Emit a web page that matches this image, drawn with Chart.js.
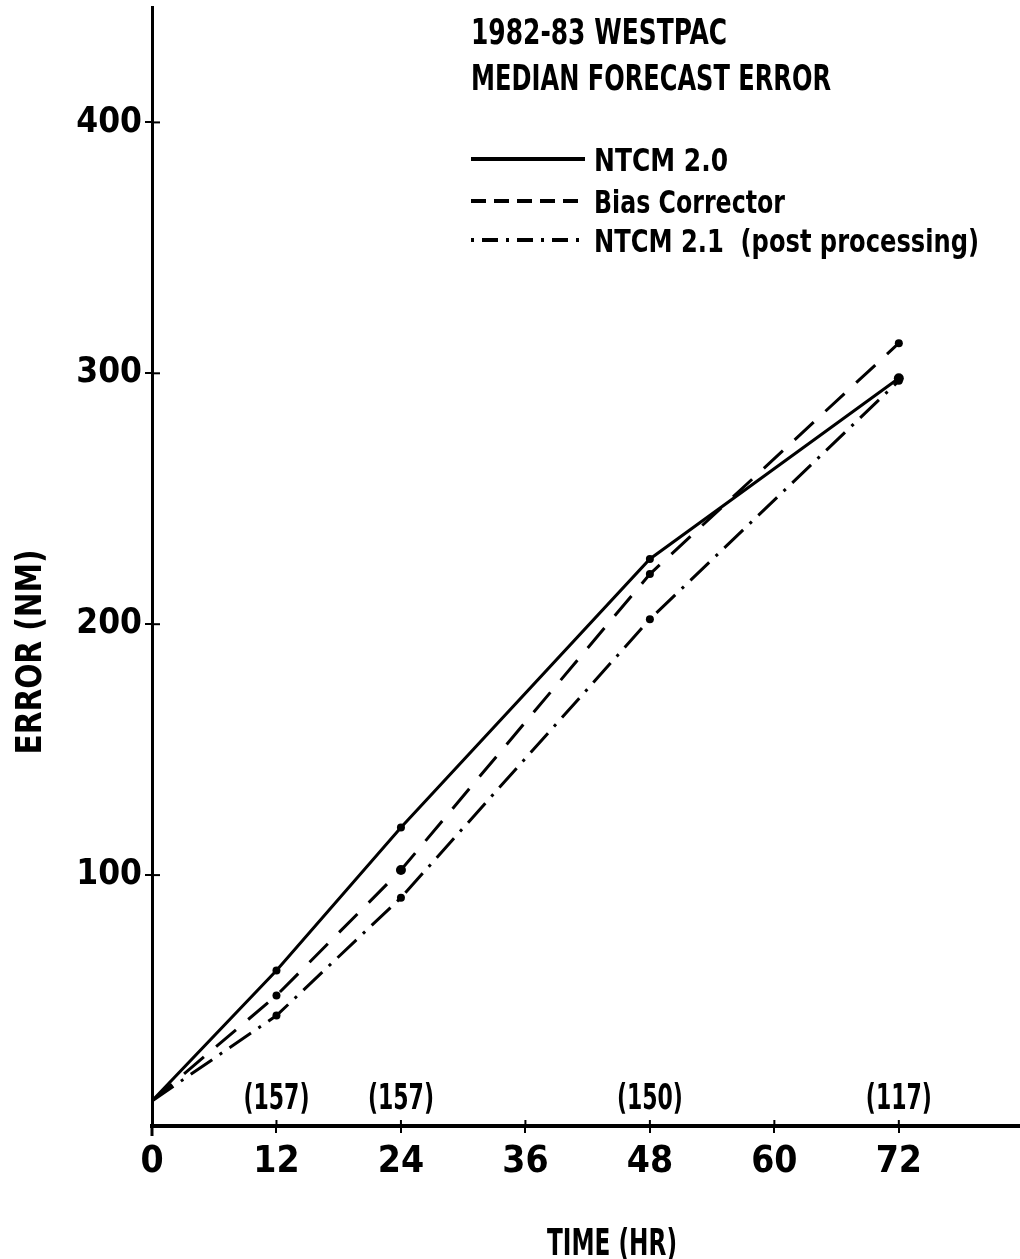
<!DOCTYPE html>
<html>
<head>
<meta charset="utf-8">
<script src="https://cdn.jsdelivr.net/npm/chart.js@4.4.0/dist/chart.umd.min.js"></script>
<style>
    html, body { margin: 0; padding: 0; background: #ffffff; }
    #graficaWrap { width: 1020px; height: 1259px; }
</style>
</head>
<body>
<div id="graficaWrap"><canvas id="graficaError" width="1020" height="1259"></canvas></div>
<script>
// Valores
var hours = [0, 12, 24, 48, 72];
var ntcm20 = [10, 62, 119, 226, 298];
var biasCorrector = [10, 52, 102, 220, 312];
var ntcm21 = [10, 44, 91, 202, 297];

var caseHours = [12, 24, 48, 72];
var caseCounts = ['(157)', '(157)', '(150)', '(117)'];

var xTicks = [0, 12, 24, 36, 48, 60, 72];
var yTicks = [100, 200, 300, 400];

var titleLines = ['1982-83 WESTPAC', 'MEDIAN FORECAST ERROR'];
var seriesNames = ['NTCM 2.0', 'Bias Corrector', 'NTCM 2.1  (post processing)'];
var xTitle = 'TIME (HR)';
var yTitle = 'ERROR (NM)';

var FONT = '"Liberation Sans Narrow", "DejaVu Sans Condensed", "Arial Narrow", sans-serif';

function toPoints(values) {
    return hours.map(function(h, i) { return { x: h, y: values[i] }; });
}

// Texto del título, leyenda, conteos y títulos de ejes
var extrasPlugin = {
    id: 'extras',
    afterDraw: function(chart) {
        var ctx = chart.ctx;
        var xs = chart.scales.x;
        var ys = chart.scales.y;
        var area = chart.chartArea;
        ctx.save();
        ctx.fillStyle = '#000';
        ctx.strokeStyle = '#000';

        // marcas de los ejes hacia adentro
        ctx.lineWidth = 2;
        yTicks.forEach(function(v) {
            var py = ys.getPixelForValue(v);
            ctx.beginPath();
            ctx.moveTo(area.left, py);
            ctx.lineTo(area.left + 8, py);
            ctx.stroke();
        });
        xTicks.forEach(function(v) {
            var px = xs.getPixelForValue(v);
            ctx.beginPath();
            ctx.moveTo(px, area.bottom);
            ctx.lineTo(px, area.bottom - 6);
            ctx.stroke();
        });
        ctx.lineWidth = 3;
        ctx.beginPath();
        ctx.moveTo(area.left, area.bottom);
        ctx.lineTo(area.left, area.bottom + 10);
        ctx.stroke();
        ctx.lineWidth = 4;
        ctx.beginPath();
        ctx.moveTo(area.right - 2, area.bottom);
        ctx.lineTo(chart.width, area.bottom);
        ctx.stroke();

        // título
        ctx.textAlign = 'left';
        ctx.textBaseline = 'alphabetic';
        ctx.font = 'bold 35px ' + FONT;
        ctx.fillText(titleLines[0], 471, 44, 256);
        ctx.fillText(titleLines[1], 471, 90, 360);

        // leyenda
        var rows = [159, 201, 240];
        var dashes = [[], [15, 8], [3, 8, 16, 8]];
        chart.data.datasets.forEach(function(ds, i) {
            ctx.lineWidth = 4;
            ctx.setLineDash(dashes[i]);
            ctx.beginPath();
            ctx.moveTo(471, rows[i]);
            ctx.lineTo(585, rows[i]);
            ctx.stroke();
            ctx.setLineDash([]);
            ctx.font = 'bold 32px ' + FONT;
            var maxW = [134, 191, 385][i];
            ctx.fillText(ds.label, 594, rows[i] + 12, maxW);
        });

        // número de casos
        ctx.textAlign = 'center';
        ctx.font = 'bold 35px ' + FONT;
        caseHours.forEach(function(h, i) {
            ctx.fillText(caseCounts[i], xs.getPixelForValue(h), 1109, 66);
        });

        // títulos de los ejes
        ctx.font = 'bold 38px ' + FONT;
        ctx.fillText(xTitle, 612, 1255, 130);
        ctx.save();
        ctx.translate(41, 652);
        ctx.rotate(-Math.PI / 2);
        ctx.font = 'bold 36px ' + FONT;
        ctx.fillText(yTitle, 0, 0, 205);
        ctx.restore();

        ctx.restore();
    }
};

function render_graph() {
    var ctx = document.getElementById('graficaError').getContext('2d');

    window.errorChart = new Chart(ctx, {
        type: 'line',
        data: {
            datasets: [{
                label: seriesNames[0],
                data: toPoints(ntcm20),
                borderColor: '#000',
                borderWidth: 3,
                pointRadius: [0, 4, 4, 4, 5],
                pointBackgroundColor: '#000',
                pointBorderWidth: 0
            }, {
                label: seriesNames[1],
                data: toPoints(biasCorrector),
                borderColor: '#000',
                borderWidth: 3,
                borderDash: [26, 16],
                pointRadius: [0, 4, 5, 4, 4],
                pointBackgroundColor: '#000',
                pointBorderWidth: 0
            }, {
                label: seriesNames[2],
                data: toPoints(ntcm21),
                borderColor: '#000',
                borderWidth: 3,
                borderDash: [26, 9, 3, 9],
                pointRadius: [0, 4, 4, 4, 4],
                pointBackgroundColor: '#000',
                pointBorderWidth: 0
            }]
        },
        options: {
            responsive: false,
            animation: false,
            devicePixelRatio: 1,
            layout: { padding: { top: 7, left: 0, right: 0, bottom: 0 } },
            elements: { line: { tension: 0, fill: false } },
            plugins: {
                legend: { display: false },
                tooltip: { enabled: false }
            },
            scales: {
                x: {
                    type: 'linear',
                    position: 'bottom',
                    min: 0,
                    max: 83.2,
                    border: { color: '#000', width: 4 },
                    grid: { drawOnChartArea: false, drawTicks: true, tickLength: 7, color: '#000', lineWidth: 2 },
                    ticks: {
                        color: '#000',
                        padding: 7,
                        maxRotation: 0,
                        font: { family: FONT, size: 37, weight: 'bold' }
                    },
                    afterBuildTicks: function(s) {
                        s.ticks = xTicks.map(function(v) { return { value: v }; });
                    },
                    afterFit: function(s) {
                        s.height = 133;
                        s.paddingLeft = 0;
                        s.paddingRight = 0;
                    }
                },
                y: {
                    type: 'linear',
                    min: 0,
                    max: 446,
                    border: { color: '#000', width: 3 },
                    grid: { drawOnChartArea: false, drawTicks: true, tickLength: 7, color: '#000', lineWidth: 2 },
                    ticks: {
                        color: '#000',
                        padding: 3,
                        font: { family: FONT, size: 35, weight: 'bold' }
                    },
                    afterBuildTicks: function(s) {
                        s.ticks = yTicks.map(function(v) { return { value: v }; });
                    },
                    afterFit: function(s) {
                        s.width = 152;
                        s.paddingTop = 0;
                        s.paddingBottom = 0;
                    }
                }
            }
        },
        plugins: [extrasPlugin]
    });
}

render_graph();
</script>
</body>
</html>
